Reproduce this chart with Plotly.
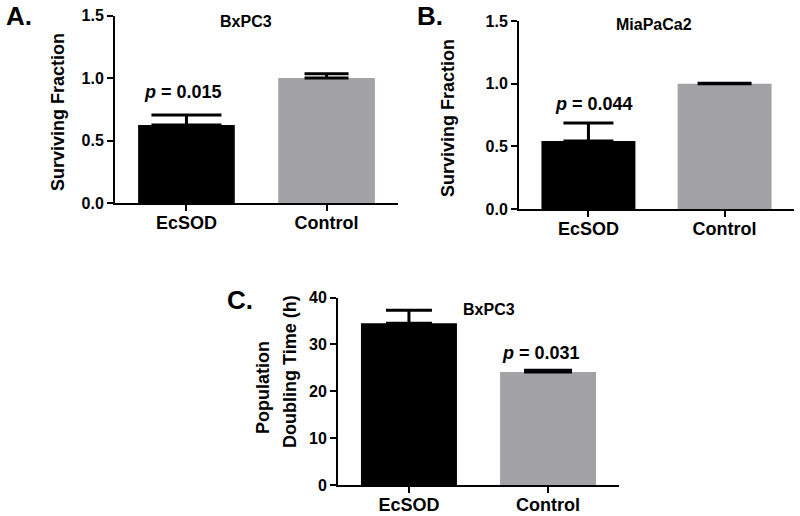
import plotly.graph_objects as go

W, H = 800, 516

categories = ["EcSOD", "Control"]
bar_colors = ["#000000", "#A3A3A7"]

a_values = [0.625, 1.0]
a_errors = [0.08, 0.035]
b_values = [0.543, 1.0]
b_errors = [0.143, 0.004]
c_values = [34.5, 24.1]
c_errors = [2.8, 0.4]

sf_ticks = [0.0, 0.5, 1.0, 1.5]
pd_ticks = [0, 10, 20, 30, 40]

# cap half-widths (px) per bar
a_caps = [35, 22]
b_caps = [25, 27]
c_caps = [23, 24]

FONT = "Liberation Sans, Arial, sans-serif"

fig = go.Figure()

panels = [
    (a_values, a_errors, a_caps, "x", "y"),
    (b_values, b_errors, b_caps, "x2", "y2"),
    (c_values, c_errors, c_caps, "x3", "y3"),
]
for vals, errs, caps, xa, ya in panels:
    for i, cat in enumerate(categories):
        fig.add_trace(go.Bar(
            x=[cat], y=[vals[i]], width=0.69,
            marker=dict(color=bar_colors[i], line=dict(width=0)),
            error_y=dict(type="data", array=[errs[i]], arrayminus=[0], symmetric=False,
                         width=caps[i], thickness=3, color="black"),
            xaxis=xa, yaxis=ya, showlegend=False, hoverinfo="skip",
        ))


def px(x):
    return x / W


def py(y):
    return 1 - y / H


xcommon = dict(type="category", categoryorder="array", categoryarray=categories,
               range=[-0.51, 1.51], showline=True, linecolor="black", linewidth=2,
               ticks="outside", ticklen=6, tickwidth=2, tickcolor="black",
               showgrid=False, zeroline=False, automargin=False, ticklabelstandoff=-4,
               tickfont=dict(size=18, color="black", family=FONT, weight="bold"))
ycommon = dict(showline=True, linecolor="black", linewidth=2,
               ticks="outside", ticklen=6, tickwidth=2, tickcolor="black",
               showgrid=False, zeroline=False, automargin=False,
               tickfont=dict(size=16, color="black", family=FONT, weight="bold"))

fig.update_layout(
    width=W, height=H,
    margin=dict(l=0, r=0, t=0, b=0),
    paper_bgcolor="white", plot_bgcolor="white",
    barmode="overlay",
    font=dict(family=FONT, color="black", weight="bold"),
    xaxis=dict(**xcommon, domain=[px(115), px(398)], anchor="y"),
    yaxis=dict(**ycommon, domain=[py(203), py(15.5)], anchor="x",
               range=[0, 1.5], tickvals=sf_ticks, tickformat=".1f"),
    xaxis2=dict(**xcommon, domain=[px(519), px(794)], anchor="y2"),
    yaxis2=dict(**ycommon, domain=[py(209), py(21)], anchor="x2",
                range=[0, 1.5], tickvals=sf_ticks, tickformat=".1f"),
    xaxis3=dict(**xcommon, domain=[px(338), px(619)], anchor="y3"),
    yaxis3=dict(**ycommon, domain=[py(485), py(297.5)], anchor="x3",
                range=[0, 40], tickvals=pd_ticks),
)


def ann(text, x, y, size, angle=0):
    fig.add_annotation(text=text, x=px(x), y=py(y), xref="paper", yref="paper",
                       showarrow=False, textangle=angle, xanchor="center", yanchor="middle",
                       font=dict(size=size, color="black", family=FONT, weight="bold"))


ann("A.", 19, 16, 26)
ann("B.", 430, 16, 26)
ann("C.", 240, 300, 26)

ann("BxPC3", 246, 22, 16)
ann("MiaPaCa2", 654, 25, 16)
ann("BxPC3", 489, 309, 16)

ann("<i>p</i> = 0.015", 183, 92, 18)
ann("<i>p</i> = 0.044", 594, 104, 18)
ann("<i>p</i> = 0.031", 541, 353, 18)

ann("Surviving Fraction", 58, 112, 18, angle=-90)
ann("Surviving Fraction", 448, 118, 18, angle=-90)
ann("Population", 263, 388, 18, angle=-90)
ann("Doubling Time (h)", 290, 372, 18, angle=-90)

fig.write_html("out.html", config={"displayModeBar": False},
               post_script="document.body.style.margin='0';document.body.style.overflow='hidden';")
